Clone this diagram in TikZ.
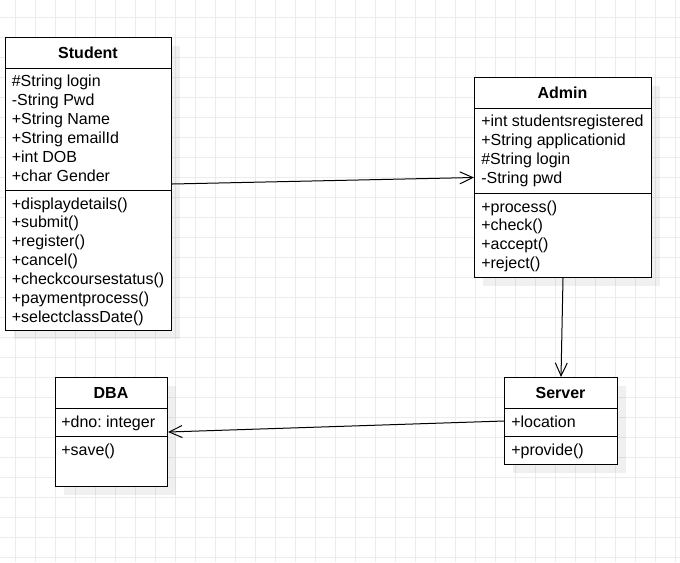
\documentclass[tikz,border=0pt]{standalone}
\usepackage{fontspec}
\setmainfont{Liberation Sans}
\usetikzlibrary{arrows.meta,shadows}
\frenchspacing

\begin{document}
\begin{tikzpicture}[x=0.75pt,y=-0.75pt,
  gridline/.style={draw=gray!15,line width=0.75pt},
  classbox/.style={draw=black,line width=0.75pt,fill=white,anchor=north west,inner sep=0pt,
    drop shadow={shadow xshift=6pt,shadow yshift=-6pt,fill=black,opacity=0.06}},
  sepline/.style={draw=black,line width=0.75pt},
  head/.style={anchor=base,inner sep=0pt,font=\bfseries\fontsize{12}{14.4}\selectfont},
  member/.style={anchor=base west,inner sep=0pt,font=\fontsize{12}{14.4}\selectfont},
  assoc/.style={draw=black,line width=0.75pt,-{Straight Barb[length=9.75pt,width=9pt]}}]
  \useasboundingbox (0,0) rectangle (680,562);
  % background grid
  \foreach \gx in {15,35,...,675} \draw[gridline] (\gx,0) -- (\gx,562);
  \foreach \gy in {17,37,...,557} \draw[gridline] (0,\gy) -- (680,\gy);

  % classes
  \node[classbox,minimum width=124.5pt,minimum height=219.75pt] (student) at (5,37) {};
  \node[classbox,minimum width=132.75pt,minimum height=150pt] (admin) at (474,77) {};
  \node[classbox,minimum width=84pt,minimum height=81.75pt] (dba) at (55,377) {};
  \node[classbox,minimum width=84.75pt,minimum height=65.25pt] (server) at (504,377) {};

  \draw[sepline] (student.north west) ++(0,31) -- ++(166,0);
  \draw[sepline] (student.north west) ++(0,153.5) -- ++(166,0);
  \draw[sepline] (admin.north west) ++(0,31.3) -- ++(177,0);
  \draw[sepline] (admin.north west) ++(0,116.3) -- ++(177,0);
  \draw[sepline] (dba.north west) ++(0,31.3) -- ++(112,0);
  \draw[sepline] (dba.north west) ++(0,59.7) -- ++(112,0);
  \draw[sepline] (server.north west) ++(0,31.3) -- ++(113,0);
  \draw[sepline] (server.north west) ++(0,59.7) -- ++(113,0);

  % Student
  \node[head] (stu-name) at (88,58.5) {Student};
  \foreach \txt [count=\i from 0] in {\#String login,-String Pwd,+String Name,+String emailId,+int DOB,+char Gender}
    \node[member] (stu-attr-\i) at (11.5,{86+19*\i}) {\txt};
  \foreach \txt [count=\i from 0] in {+displaydetails(),+submit(),+register(),+cancel(),+checkcoursestatus(),+paymentprocess(),+selectclassDate()}
    \node[member] (stu-op-\i) at (11.5,{209+18.9*\i}) {\txt};

  % Admin
  \node[head] (adm-name) at (562.5,98.5) {Admin};
  \foreach \txt [count=\i from 0] in {+int studentsregistered,+String applicationid,\#String login,-String pwd}
    \node[member] (adm-attr-\i) at (481,{126+19*\i}) {\txt};
  \foreach \txt [count=\i from 0] in {+process(),+check(),+accept(),+reject()}
    \node[member] (adm-op-\i) at (481,{212+18.8*\i}) {\txt};

  % DBA
  \node[head] (dba-name) at (111,398.5) {DBA};
  \node[member] (dba-attr) at (61,427) {+dno: integer};
  \node[member] (dba-op) at (61,455) {+save()};

  % Server
  \node[head] (srv-name) at (560.5,398.5) {Server};
  \node[member] (srv-attr) at (511,427) {+location};
  \node[member] (srv-op) at (511,455) {+provide()};

  % associations
  \draw[assoc] (student.east) -- (admin.west);
  \draw[assoc] (admin.south) -- (server.north);
  \draw[assoc] (server.west) -- (dba.east);
\end{tikzpicture}
\end{document}
